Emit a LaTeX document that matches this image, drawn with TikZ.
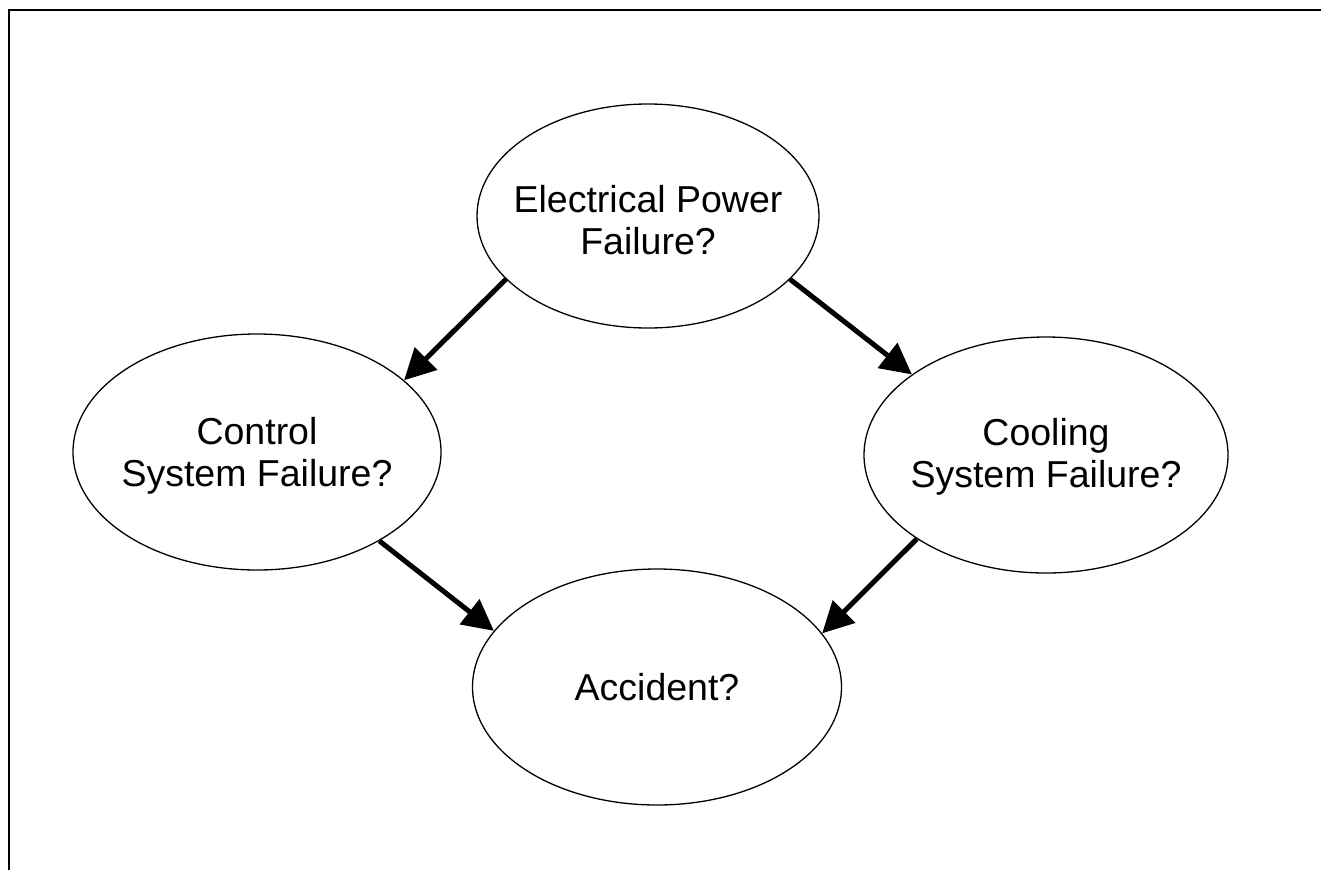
\documentclass[tikz,border=0pt]{standalone}
\usepackage{fontspec}
\setmainfont{Liberation Sans}
\usetikzlibrary{shapes.geometric,arrows.meta}
\tikzset{
  bubble/.style={draw, ellipse, line width=1.3pt, inner sep=0pt},
  caption/.style={align=center, inner sep=0pt, font=\fontsize{37.5}{42}\selectfont},
  cause/.style={line width=5pt, -{Triangle[length=31pt,width=31pt]}},
  frameline/.style={line width=2.5pt}
}
\begin{document}
\begin{tikzpicture}[x=1pt,y=-1pt]
\useasboundingbox (0,0) rectangle (1321,870);
\coordinate (fb) at (9,870);
\coordinate (fc) at (9,10);
\coordinate (fr) at (1321,10);
\draw[frameline] (fb) -- (fc) -- (fr);
\node[bubble, minimum width=342pt, minimum height=224pt] (power) at (648,216) {};
\node[bubble, minimum width=368pt, minimum height=236pt] (control) at (257,452) {};
\node[bubble, minimum width=364pt, minimum height=236pt] (cooling) at (1046,455) {};
\node[bubble, minimum width=369pt, minimum height=236pt] (accident) at (657,687) {};
\node[caption, yshift=-4pt] (powertext) at (power.center) {Electrical Power\\Failure?};
\node[caption, yshift=-4pt] (controltext) at (control.center) {Control\\System Failure?};
\node[caption, yshift=-2pt] (coolingtext) at (cooling.center) {Cooling\\System Failure?};
\node[caption] (accidenttext) at (accident.center) {Accident?};
\draw[cause] (power.204.8) -- (control.26.3);
\draw[cause] (power.336.5) -- (cooling.149.5);
\draw[cause] (control.324.5) -- (accident.161.6);
\draw[cause] (cooling.213.3) -- (accident.18.1);
\end{tikzpicture}
\end{document}
